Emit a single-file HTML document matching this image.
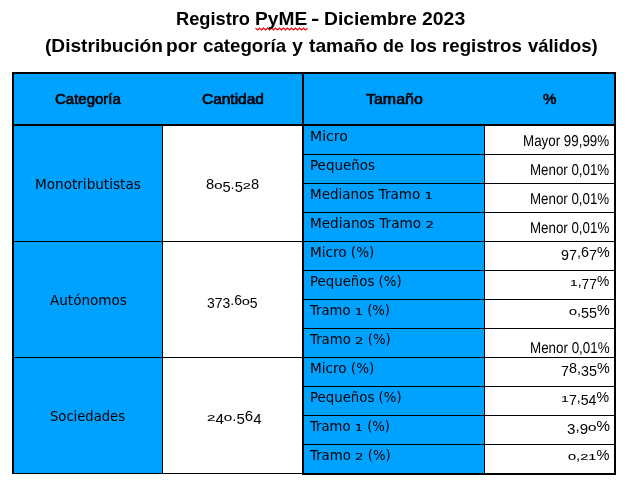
<!DOCTYPE html>
<html lang="es"><head><meta charset="utf-8"><title>Registro PyME - Diciembre 2023</title>
<style>
html,body{margin:0;padding:0;background:#fff}
body{width:631px;height:489px;position:relative;overflow:hidden;font-family:"Liberation Sans",sans-serif;color:#000}
.g div{position:absolute}
.t{position:absolute;white-space:nowrap;line-height:20px}
.fL{font-family:"Liberation Sans",sans-serif}
.fD{font-family:"DejaVu Sans","Liberation Sans",sans-serif}
h1,h2{margin:0;font:inherit}
.b{font-weight:bold}
.h{-webkit-text-stroke:0.6px #000}
.x{display:inline-block;transform:scaleY(0.7);transform-origin:50% 14px;-webkit-text-stroke:0.15px #000}
.d{position:relative;top:0.21em}
</style></head><body>
<div class="g">
<div style="left:14px;top:74px;width:600px;height:50px;background:#00A2FF"></div>
<div style="left:14px;top:126px;width:148px;height:347px;background:#00A2FF"></div>
<div style="left:304px;top:126px;width:180px;height:347px;background:#00A2FF"></div>
<div style="left:12px;top:72px;width:604px;height:2px;background:#000"></div>
<div style="left:12px;top:72px;width:2px;height:402px;background:#000"></div>
<div style="left:614px;top:72px;width:2px;height:403px;background:#000"></div>
<div style="left:12px;top:124px;width:604px;height:2px;background:#000"></div>
<div style="left:302px;top:72px;width:2px;height:403px;background:#000"></div>
<div style="left:302px;top:473px;width:314px;height:2px;background:#000"></div>
<div style="left:12px;top:473px;width:290px;height:1px;background:#000"></div>
<div style="left:162px;top:126px;width:1px;height:347px;background:#000"></div>
<div style="left:484px;top:126px;width:1px;height:347px;background:#000"></div>
<div style="left:14px;top:241px;width:288px;height:1px;background:#000"></div>
<div style="left:14px;top:357px;width:288px;height:1px;background:#000"></div>
<div style="left:304px;top:154px;width:310px;height:1px;background:#000"></div>
<div style="left:304px;top:183px;width:310px;height:1px;background:#000"></div>
<div style="left:304px;top:212px;width:310px;height:1px;background:#000"></div>
<div style="left:304px;top:241px;width:310px;height:1px;background:#000"></div>
<div style="left:304px;top:270px;width:310px;height:1px;background:#000"></div>
<div style="left:304px;top:299px;width:310px;height:1px;background:#000"></div>
<div style="left:304px;top:328px;width:310px;height:1px;background:#000"></div>
<div style="left:304px;top:357px;width:310px;height:1px;background:#000"></div>
<div style="left:304px;top:386px;width:310px;height:1px;background:#000"></div>
<div style="left:304px;top:415px;width:310px;height:1px;background:#000"></div>
<div style="left:304px;top:444px;width:310px;height:1px;background:#000"></div>
</div>
<svg style="position:absolute;left:0;top:0" width="631" height="40" viewBox="0 0 631 40"><polyline points="255.5,28.1 257.5,29.9 259.5,28.1 261.5,29.9 263.5,28.1 265.5,29.9 267.5,28.1 269.5,29.9 271.5,28.1 273.5,29.9 275.5,28.1 277.5,29.9 279.5,28.1 281.5,29.9 283.5,28.1 285.5,29.9 287.5,28.1 289.5,29.9 291.5,28.1 293.5,29.9 295.5,28.1 297.5,29.9 299.5,28.1 301.5,29.9 303.5,28.1 305.5,29.9 307.5,28.1" fill="none" stroke="#f00" stroke-width="1.25"/></svg>
<h1 aria-label="Registro PyME - Diciembre 2023">
<span class="t b fL" style="left:176.00px;top:9px;font-size:18.2px;transform-origin:0 16px;transform:scaleX(1.0028)">Registro</span>
<span class="t b fL" style="left:254.70px;top:9px;font-size:18.2px;transform-origin:0 16px;transform:scaleX(1.0533)">PyME</span>
<span class="t b fL" style="left:311.29px;top:9px;font-size:18.2px;transform-origin:0 16px;transform:scaleX(1.3716)">-</span>
<span class="t b fL" style="left:323.86px;top:9px;font-size:18.2px;transform-origin:0 16px;transform:scaleX(1.0564)">Diciembre</span>
<span class="t b fL" style="left:422.24px;top:9px;font-size:18.2px;transform-origin:0 16px;transform:scaleX(1.0671)">2023</span>
</h1>
<h2 aria-label="(Distribución por categoría y tamaño de los registros válidos)">
<span class="t b fL" style="left:44.82px;top:36px;font-size:18.2px;transform-origin:0 16px;transform:scaleX(1.0504)">(Distribución</span>
<span class="t b fL" style="left:166.34px;top:36px;font-size:18.2px;transform-origin:0 16px;transform:scaleX(1.0552)">por</span>
<span class="t b fL" style="left:202.74px;top:36px;font-size:18.2px;transform-origin:0 16px;transform:scaleX(1.0273)">categoría</span>
<span class="t b fL" style="left:292.14px;top:36px;font-size:18.2px;transform-origin:0 16px;transform:scaleX(1.0757)">y</span>
<span class="t b fL" style="left:309.01px;top:36px;font-size:18.2px;transform-origin:0 16px;transform:scaleX(1.0578)">tamaño</span>
<span class="t b fL" style="left:383.18px;top:36px;font-size:18.2px;transform-origin:0 16px;transform:scaleX(0.9810)">de</span>
<span class="t b fL" style="left:409.82px;top:36px;font-size:18.2px;transform-origin:0 16px;transform:scaleX(1.0233)">los</span>
<span class="t b fL" style="left:441.86px;top:36px;font-size:18.2px;transform-origin:0 16px;transform:scaleX(1.0268)">registros</span>
<span class="t b fL" style="left:527.77px;top:36px;font-size:18.2px;transform-origin:0 16px;transform:scaleX(1.0127)">válidos)</span>
</h2>
<span class="t h fL" style="left:54.80px;top:90px;font-size:13.8px;transform-origin:0 14px;transform:scaleX(1.0867)">Categoría</span>
<span class="t h fL" style="left:202.42px;top:90px;font-size:13.8px;transform-origin:0 14px;transform:scaleX(1.1206)">Cantidad</span>
<span class="t h fL" style="left:366.12px;top:90px;font-size:13.8px;transform-origin:0 14px;transform:scaleX(1.1566)">Tamaño</span>
<span class="t h fL" style="left:543.24px;top:90px;font-size:13.8px;transform-origin:0 14px;transform:scaleX(1.0918)">%</span>
<span class="t  fD" style="left:34.67px;top:175px;font-size:13.2px;transform-origin:0 14px;transform:scaleX(1.0301)">Monotributistas</span>
<span class="t  fL" aria-label="805.528" style="left:206.19px;top:175px;font-size:13.8px;transform-origin:0 14px;transform:scaleX(1.0657)">8<span class="x">0</span><span class="d">5</span>.<span class="d">5</span><span class="x">2</span>8</span>
<span class="t  fD" style="left:50.15px;top:291px;font-size:13.2px;transform-origin:0 14px;transform:scaleX(1.0266)">Autónomos</span>
<span class="t  fL" aria-label="373.605" style="left:207.01px;top:291px;font-size:13.8px;transform-origin:0 14px;transform:scaleX(1.0135)"><span class="d">3</span><span class="d">7</span><span class="d">3</span>.6<span class="x">0</span><span class="d">5</span></span>
<span class="t  fD" style="left:50.26px;top:407px;font-size:13.2px;transform-origin:0 14px;transform:scaleX(0.9962)">Sociedades</span>
<span class="t  fL" aria-label="240.564" style="left:206.50px;top:407px;font-size:13.8px;transform-origin:0 14px;transform:scaleX(1.0921)"><span class="x">2</span><span class="d">4</span><span class="x">0</span>.<span class="d">5</span>6<span class="d">4</span></span>
<span class="t  fD" style="left:309.97px;top:127px;font-size:13.2px;transform-origin:0 14px;transform:scaleX(1.0686)">Micro</span>
<span class="t  fD" style="left:309.55px;top:156px;font-size:13.2px;transform-origin:0 14px;transform:scaleX(1.0180)">Pequeños</span>
<span class="t  fD" aria-label="Medianos Tramo 1" style="left:309.56px;top:185px;font-size:13.2px;transform-origin:0 14px;transform:scaleX(1.0235)">Medianos Tramo <span class="x">1</span></span>
<span class="t  fD" aria-label="Medianos Tramo 2" style="left:309.89px;top:214px;font-size:13.2px;transform-origin:0 14px;transform:scaleX(1.0325)">Medianos Tramo <span class="x">2</span></span>
<span class="t  fD" style="left:309.75px;top:243px;font-size:13.2px;transform-origin:0 14px;transform:scaleX(1.0296)">Micro (%)</span>
<span class="t  fD" style="left:310.05px;top:272px;font-size:13.2px;transform-origin:0 14px;transform:scaleX(1.0096)">Pequeños (%)</span>
<span class="t  fD" aria-label="Tramo 1 (%)" style="left:310.10px;top:301px;font-size:13.2px;transform-origin:0 14px;transform:scaleX(0.9978)">Tramo <span class="x">1</span> (%)</span>
<span class="t  fD" aria-label="Tramo 2 (%)" style="left:310.10px;top:330px;font-size:13.2px;transform-origin:0 14px;transform:scaleX(1.0075)">Tramo <span class="x">2</span> (%)</span>
<span class="t  fD" style="left:309.75px;top:359px;font-size:13.2px;transform-origin:0 14px;transform:scaleX(1.0296)">Micro (%)</span>
<span class="t  fD" style="left:310.05px;top:388px;font-size:13.2px;transform-origin:0 14px;transform:scaleX(1.0096)">Pequeños (%)</span>
<span class="t  fD" aria-label="Tramo 1 (%)" style="left:310.10px;top:417px;font-size:13.2px;transform-origin:0 14px;transform:scaleX(0.9978)">Tramo <span class="x">1</span> (%)</span>
<span class="t  fD" aria-label="Tramo 2 (%)" style="left:310.10px;top:446px;font-size:13.2px;transform-origin:0 14px;transform:scaleX(1.0075)">Tramo <span class="x">2</span> (%)</span>
<span class="t  fL" style="left:523.36px;top:131px;font-size:15px;transform-origin:0 15px;transform:scale(0.8912,1.045) rotate(0.03deg)">Mayor 99,99%</span>
<span class="t  fL" style="left:530.05px;top:160px;font-size:15px;transform-origin:0 15px;transform:scale(0.8879,1.045) rotate(0.03deg)">Menor 0,01%</span>
<span class="t  fL" style="left:530.05px;top:189px;font-size:15px;transform-origin:0 15px;transform:scale(0.8879,1.045) rotate(0.03deg)">Menor 0,01%</span>
<span class="t  fL" style="left:530.26px;top:218px;font-size:15px;transform-origin:0 15px;transform:scale(0.8880,1.045) rotate(0.03deg)">Menor 0,01%</span>
<span class="t  fL" aria-label="97,67%" style="left:561.15px;top:243px;font-size:13.8px;transform-origin:0 14px;transform:scaleX(1.0381)"><span class="d">9</span><span class="d">7</span>,6<span class="d">7</span>%</span>
<span class="t  fL" aria-label="1,77%" style="left:570.41px;top:272px;font-size:13.8px;transform-origin:0 14px;transform:scaleX(0.9993)"><span class="x">1</span>,<span class="d">7</span><span class="d">7</span>%</span>
<span class="t  fL" aria-label="0,55%" style="left:568.76px;top:301px;font-size:13.8px;transform-origin:0 14px;transform:scaleX(1.0407)"><span class="x">0</span>,<span class="d">5</span><span class="d">5</span>%</span>
<span class="t  fL" style="left:529.98px;top:338px;font-size:15px;transform-origin:0 15px;transform:scale(0.8923,1.045) rotate(0.03deg)">Menor 0,01%</span>
<span class="t  fL" aria-label="78,35%" style="left:561.00px;top:359px;font-size:13.8px;transform-origin:0 14px;transform:scaleX(1.0389)"><span class="d">7</span>8,<span class="d">3</span><span class="d">5</span>%</span>
<span class="t  fL" aria-label="17,54%" style="left:561.48px;top:388px;font-size:13.8px;transform-origin:0 14px;transform:scaleX(1.0258)"><span class="x">1</span><span class="d">7</span>,<span class="d">5</span><span class="d">4</span>%</span>
<span class="t  fL" aria-label="3,90%" style="left:566.74px;top:417px;font-size:13.8px;transform-origin:0 14px;transform:scaleX(1.0962)"><span class="d">3</span>,<span class="d">9</span><span class="x">0</span>%</span>
<span class="t  fL" aria-label="0,21%" style="left:568.01px;top:446px;font-size:13.8px;transform-origin:0 14px;transform:scaleX(1.0563)"><span class="x">0</span>,<span class="x">2</span><span class="x">1</span>%</span>
</body></html>
